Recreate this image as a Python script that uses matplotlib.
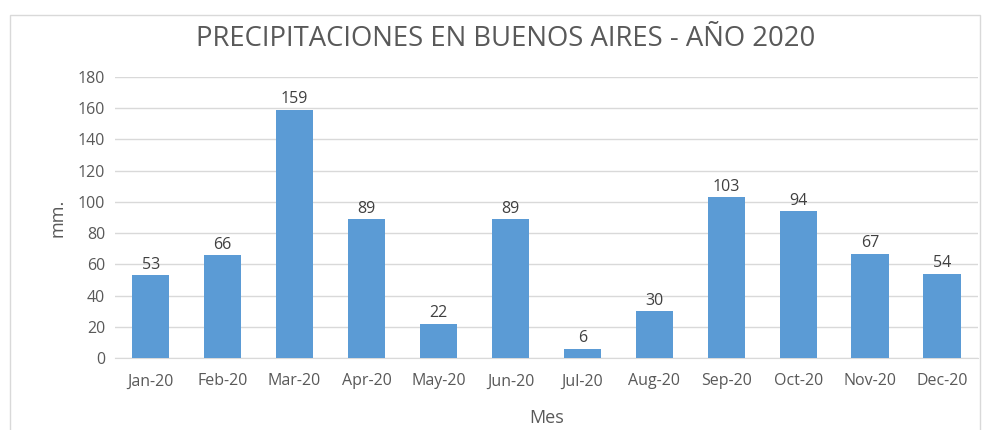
import matplotlib
matplotlib.use("Agg")
import matplotlib.pyplot as plt
from matplotlib.patches import Rectangle

months = ["Jan-20", "Feb-20", "Mar-20", "Apr-20", "May-20", "Jun-20",
          "Jul-20", "Aug-20", "Sep-20", "Oct-20", "Nov-20", "Dec-20"]
rainfall_mm = [53, 66, 159, 89, 22, 89, 6, 30, 103, 94, 67, 54]
y_ticks = [0, 20, 40, 60, 80, 100, 120, 140, 160, 180]

plt.rcParams['font.family'] = ['Open Sans', 'DejaVu Sans']
text_color = "#595959"

fig = plt.figure(figsize=(9.89, 4.30), dpi=100)
ax = fig.add_axes([0.116, 0.167, 0.873, 0.654])

# outer chart frame
fig.patches.append(Rectangle((10 / 989, -0.01), 970 / 989, 1 - 15 / 430 + 0.01,
                             transform=fig.transFigure, fill=False,
                             edgecolor="#D9D9D9", linewidth=1.0))

x = range(len(months))
bars = ax.bar(x, rainfall_mm, width=0.52, color="#5B9BD5", zorder=3)
for xi, v in zip(x, rainfall_mm):
    ax.text(xi, v + 1.5, str(v), ha="center", va="bottom", fontsize=11.5,
            color="#404040", zorder=4)

ax.set_xlim(-0.5, len(months) - 0.5)
ax.set_ylim(0, 180)
ax.set_yticks(y_ticks)
ax.set_xticks(list(x))
ax.set_xticklabels(months)
ax.tick_params(axis="both", length=0, labelsize=11.5, labelcolor=text_color)
ax.tick_params(axis="x", pad=11)
ax.tick_params(axis="y", pad=7)
ax.grid(axis="y", color="#D9D9D9", linewidth=1.0, zorder=0)
for side in ["top", "right", "left"]:
    ax.spines[side].set_visible(False)
ax.spines["bottom"].set_color("#D9D9D9")

ax.set_xlabel("Mes", fontsize=13, color=text_color, labelpad=14)
ax.set_ylabel("mm.", fontsize=13, color=text_color, labelpad=8)
fig.text(0.511, 0.91, "PRECIPITACIONES EN BUENOS AIRES - AÑO 2020",
         ha="center", va="center", fontsize=19.8, color=text_color)

fig.savefig("out.png", dpi=100)
